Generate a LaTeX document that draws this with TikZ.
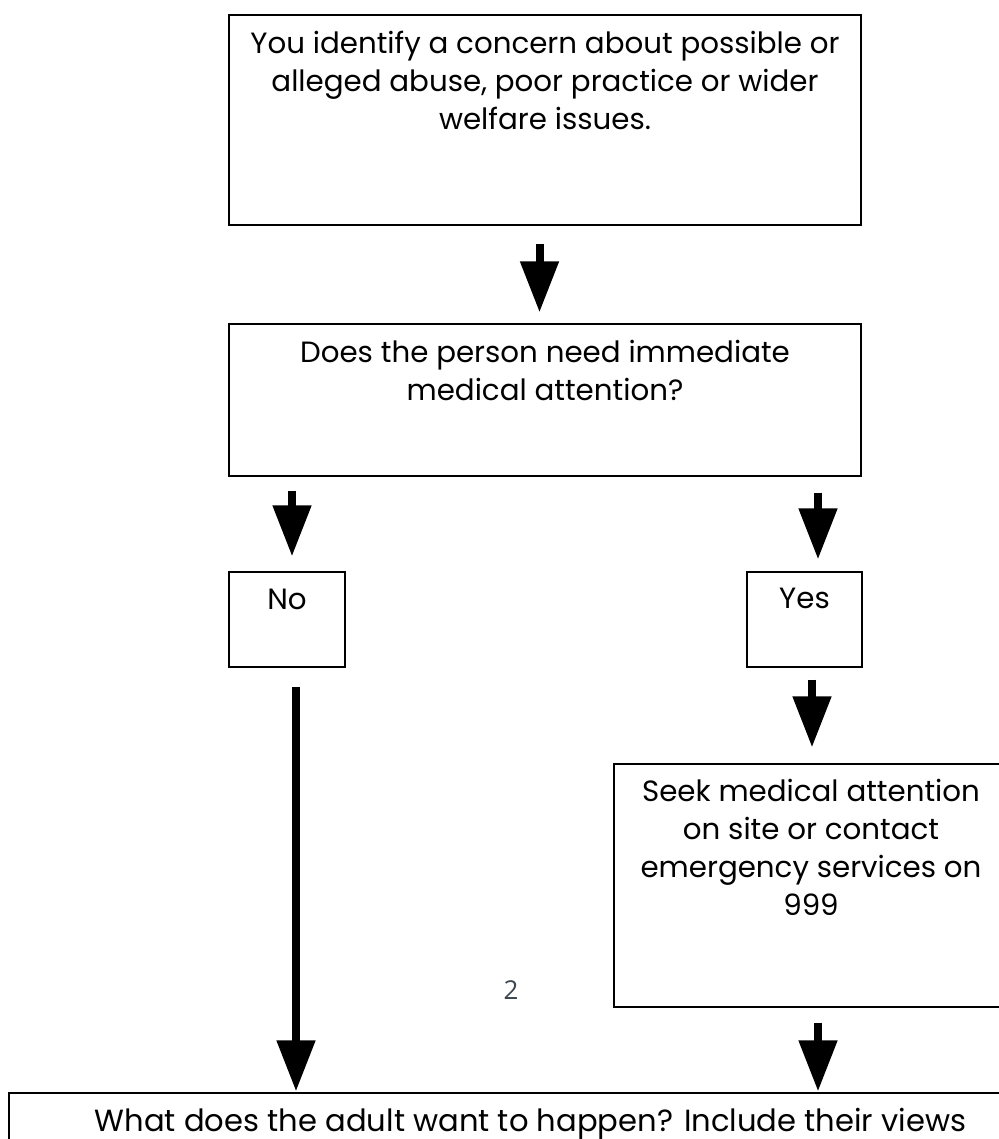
\documentclass[tikz,border=0pt]{standalone}
\usepackage{fontspec}
\setmainfont{Poppins}
\newfontfamily\pagenumfont{Open Sans}
\usetikzlibrary{arrows.meta}
\definecolor{pagegrey}{HTML}{3C4650}
\begin{document}
\begin{tikzpicture}[x=1pt,y=-1pt,
  box/.style={draw=black,line width=1.3pt,inner sep=0pt,fill=none},
  txt/.style={inner sep=0pt,anchor=north,align=center,font=\fontsize{29.3pt}{38pt}\selectfont},
  fat/.style={line width=8pt,-{Triangle[width=37pt,length=51pt]}}]
\useasboundingbox (0,0) rectangle (998,1139);
% boxes
\node[box,minimum width=632pt,minimum height=210pt] (b1) at (545,120) {};
\node[box,minimum width=632pt,minimum height=152pt] (b2) at (545,400) {};
\node[box,minimum width=116pt,minimum height=95pt] (no) at (287,619.5) {};
\node[box,minimum width=115pt,minimum height=95pt] (yes) at (804.5,619.5) {};
\node[box,minimum width=394pt,minimum height=243pt] (seek) at (811,885.5) {};
\node[box,minimum width=1043pt,minimum height=160pt] (bot) at (530.5,1173) {};
% texts
\node[txt] (t1) at ([yshift=-17pt]b1.north) {You identify a concern about possible or\\alleged abuse, poor practice or wider\\welfare issues.};
\node[txt] (t2) at ([yshift=-17pt]b2.north) {Does the person need immediate\\medical attention?};
\node[txt] (t3) at ([yshift=-17pt]no.north) {No};
\node[txt] (t4) at ([yshift=-17pt]yes.north) {Yes};
\node[txt] (t5) at ([yshift=-16pt]seek.north) {Seek medical attention\\on site or contact\\emergency services on\\999};
\node[txt,font=\fontsize{30.6pt}{36pt}\selectfont] (t6) at ([yshift=-16pt]bot.north) {What does the adult want to happen? Include their views};
\node[inner sep=0pt,text=pagegrey,font=\pagenumfont\fontsize{26pt}{30pt}\selectfont] (pg) at (511,990) {2};
% arrows
\draw[fat,shorten <=18pt,shorten >=11pt] ([xshift=-5.5pt]b1.south) -- ([xshift=-5.5pt]b1.south |- b2.north);
\draw[fat,shorten <=14pt,shorten >=15pt] ([xshift=5pt]no.north |- b2.south) -- ([xshift=5pt]no.north);
\draw[fat,shorten <=16pt,shorten >=12pt] ([xshift=13.5pt]yes.north |- b2.south) -- ([xshift=13.5pt]yes.north);
\draw[fat,shorten <=12pt,shorten >=16pt] ([xshift=7.5pt]yes.south) -- ([xshift=7.5pt]yes.south |- seek.north);
\draw[fat,shorten <=19pt,shorten >=1pt] ([xshift=9pt]no.south) -- ([xshift=9pt]no.south |- bot.north);
\draw[fat,shorten <=15pt,shorten >=1pt] ([xshift=7pt]seek.south) -- ([xshift=7pt]seek.south |- bot.north);
\end{tikzpicture}
\end{document}
